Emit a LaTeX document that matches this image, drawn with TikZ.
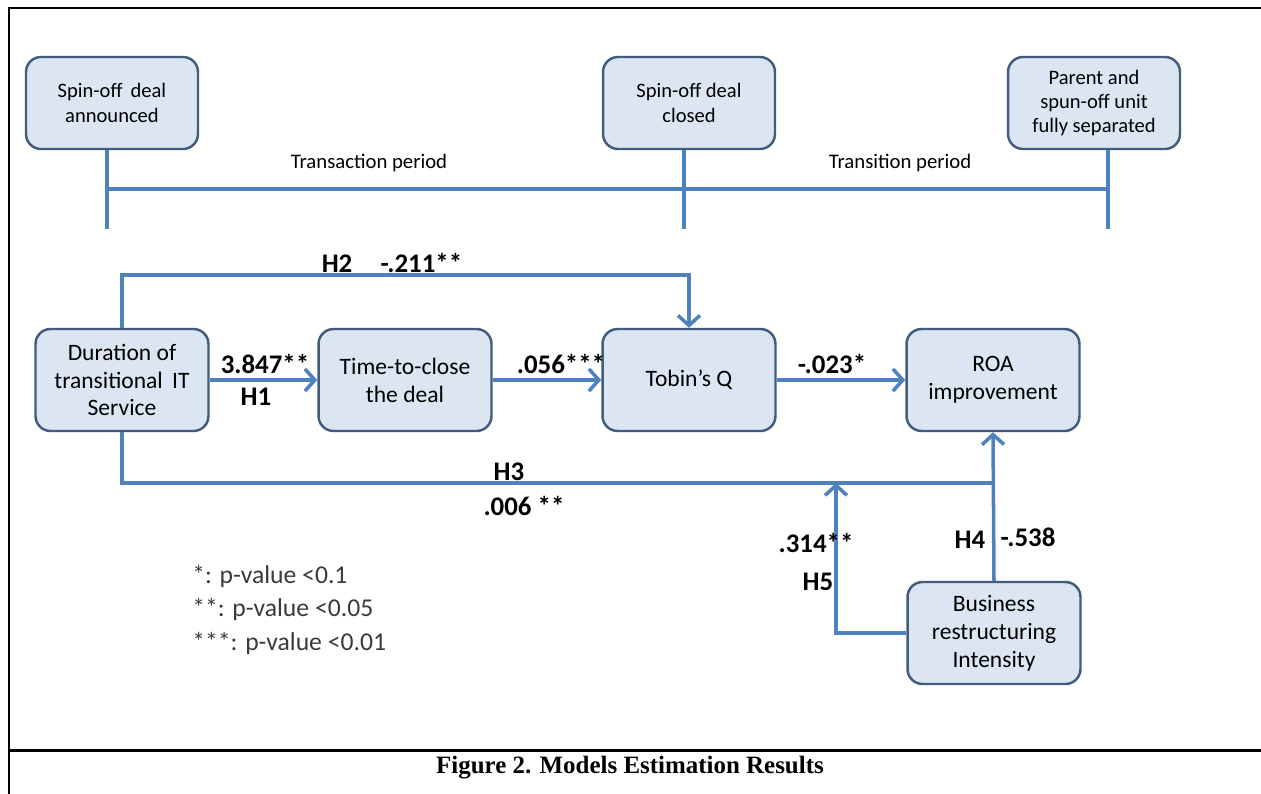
\documentclass[tikz,border=0pt]{standalone}
\usepackage{fontspec}
\setmainfont{Carlito}
\newfontfamily\capfont{Liberation Serif}
\usetikzlibrary{arrows.meta,calc}
\definecolor{boxfill}{HTML}{DCE6F2}
\definecolor{boxline}{HTML}{415C7C}
\definecolor{flowblue}{HTML}{4F81BD}
\definecolor{legendgray}{HTML}{3A3A3A}
\tikzset{
  eventbox/.style={draw=boxline, line width=1.4pt, fill=boxfill, rounded corners=0.3cm,
    align=center, minimum width=3.44cm, minimum height=1.84cm, inner sep=1pt,
    font=\fontsize{11.7}{13.8}\selectfont},
  varbox/.style={draw=boxline, line width=1.4pt, fill=boxfill, rounded corners=0.3cm,
    align=center, minimum width=3.46cm, minimum height=2.04cm, inner sep=1pt,
    font=\fontsize{13.4}{15.9}\selectfont},
  timeline/.style={draw=flowblue, line width=2pt},
  flow/.style={draw=flowblue, line width=2pt, -{Straight Barb[length=2mm,width=4.4mm]}},
  coef/.style={font=\bfseries\fontsize{15.3}{17}\selectfont, inner sep=0pt},
  period/.style={font=\fontsize{11.8}{13}\selectfont, inner sep=0pt},
  legend/.style={font=\fontsize{14.6}{16}\selectfont, text=legendgray, anchor=west, inner sep=0pt}
}

\begin{document}
\begin{tikzpicture}[x=0.02cm, y=-0.02cm]
  %%%%% START %%%%%
  \useasboundingbox (0,0) rectangle (1261,794);

  % frame
  \draw[line width=1.7pt] (9,794) -- (9,8) -- (1261,8);
  \draw[line width=1.7pt] (9,750) -- (1261,750);

  % time line
  \node[eventbox] (ann) at (112,103) {Spin-off\, deal\\announced};
  \node[eventbox] (clo) at (689,103) {Spin-off deal\\closed};
  \node[eventbox] (sep) at (1094,103) {Parent and\\spun-off unit\\fully separated};

  \coordinate (t1) at (107,229);
  \coordinate (t2) at (684,229);
  \coordinate (t3) at (1108,229);
  \coordinate (tl) at (0,189);

  \draw[timeline] (ann.south -| t1) -- (t1);
  \draw[timeline] (clo.south -| t2) -- (t2);
  \draw[timeline] (sep.south -| t3) -- (t3);
  \draw[timeline] (t1 |- tl) -- (t3 |- tl);

  \node[period] (trx) at (369,163) {Transaction period};
  \node[period] (trn) at (900,163) {Transition period};

  % model
  \node[varbox] (dur) at (122,380) {Duration of\\transitional\, IT\\Service};
  \node[varbox] (ttc) at (405,380) {Time-to-close\\the deal};
  \node[varbox] (tob) at (689,380) {Tobin's Q};
  \node[varbox] (roa) at (993,380) {ROA\\improvement};
  \node[varbox] (bri) at (994,633) {Business\\restructuring\\Intensity};

  \coordinate (h2) at (0,275);
  \coordinate (h3) at (0,483);
  \coordinate (h5) at (836,483);

  \draw[flow] (dur) -- (ttc);
  \draw[flow] (ttc) -- (tob);
  \draw[flow] (tob) -- (roa);
  \draw[flow] (dur.north) |- (tob.north |- h2) -- (tob.north);
  \draw[timeline] (dur.south) |- (roa.south |- h3);
  \draw[flow] (bri.north) -- (roa.south);
  \draw[flow] (bri.west) -| (h5);

  % coefficients
  \node[coef] (c2) at (392,263) {H2\hspace{1.05em}-.211**};
  \node[coef] (c1) at (265,364) {3.847**};
  \node[coef] (l1) at (256,397) {H1};
  \node[coef] (c12) at (561,364) {.056***};
  \node[coef] (c13) at (832,364) {-.023*};
  \node[coef] (l3) at (509,472) {H3};
  \node[coef] (c3) at (524,506) {.006 **};
  \node[coef] (c5) at (816,543) {.314**};
  \node[coef] (l5) at (818,582) {H5};
  \node[coef] (l4) at (970,540) {H4};
  \node[coef] (c4) at (1028,537) {-.538};

  % significance
  \node[legend] (s1) at (192,576) {*: p-value <0.1};
  \node[legend] (s2) at (192,609) {**: p-value <0.05};
  \node[legend] (s3) at (192,643) {***: p-value <0.01};

  \node[font=\capfont\bfseries\fontsize{14.2}{16}\selectfont] (cap) at (630,768) {Figure 2. Models Estimation Results};
  %%%%% END %%%%%
\end{tikzpicture}
\end{document}
